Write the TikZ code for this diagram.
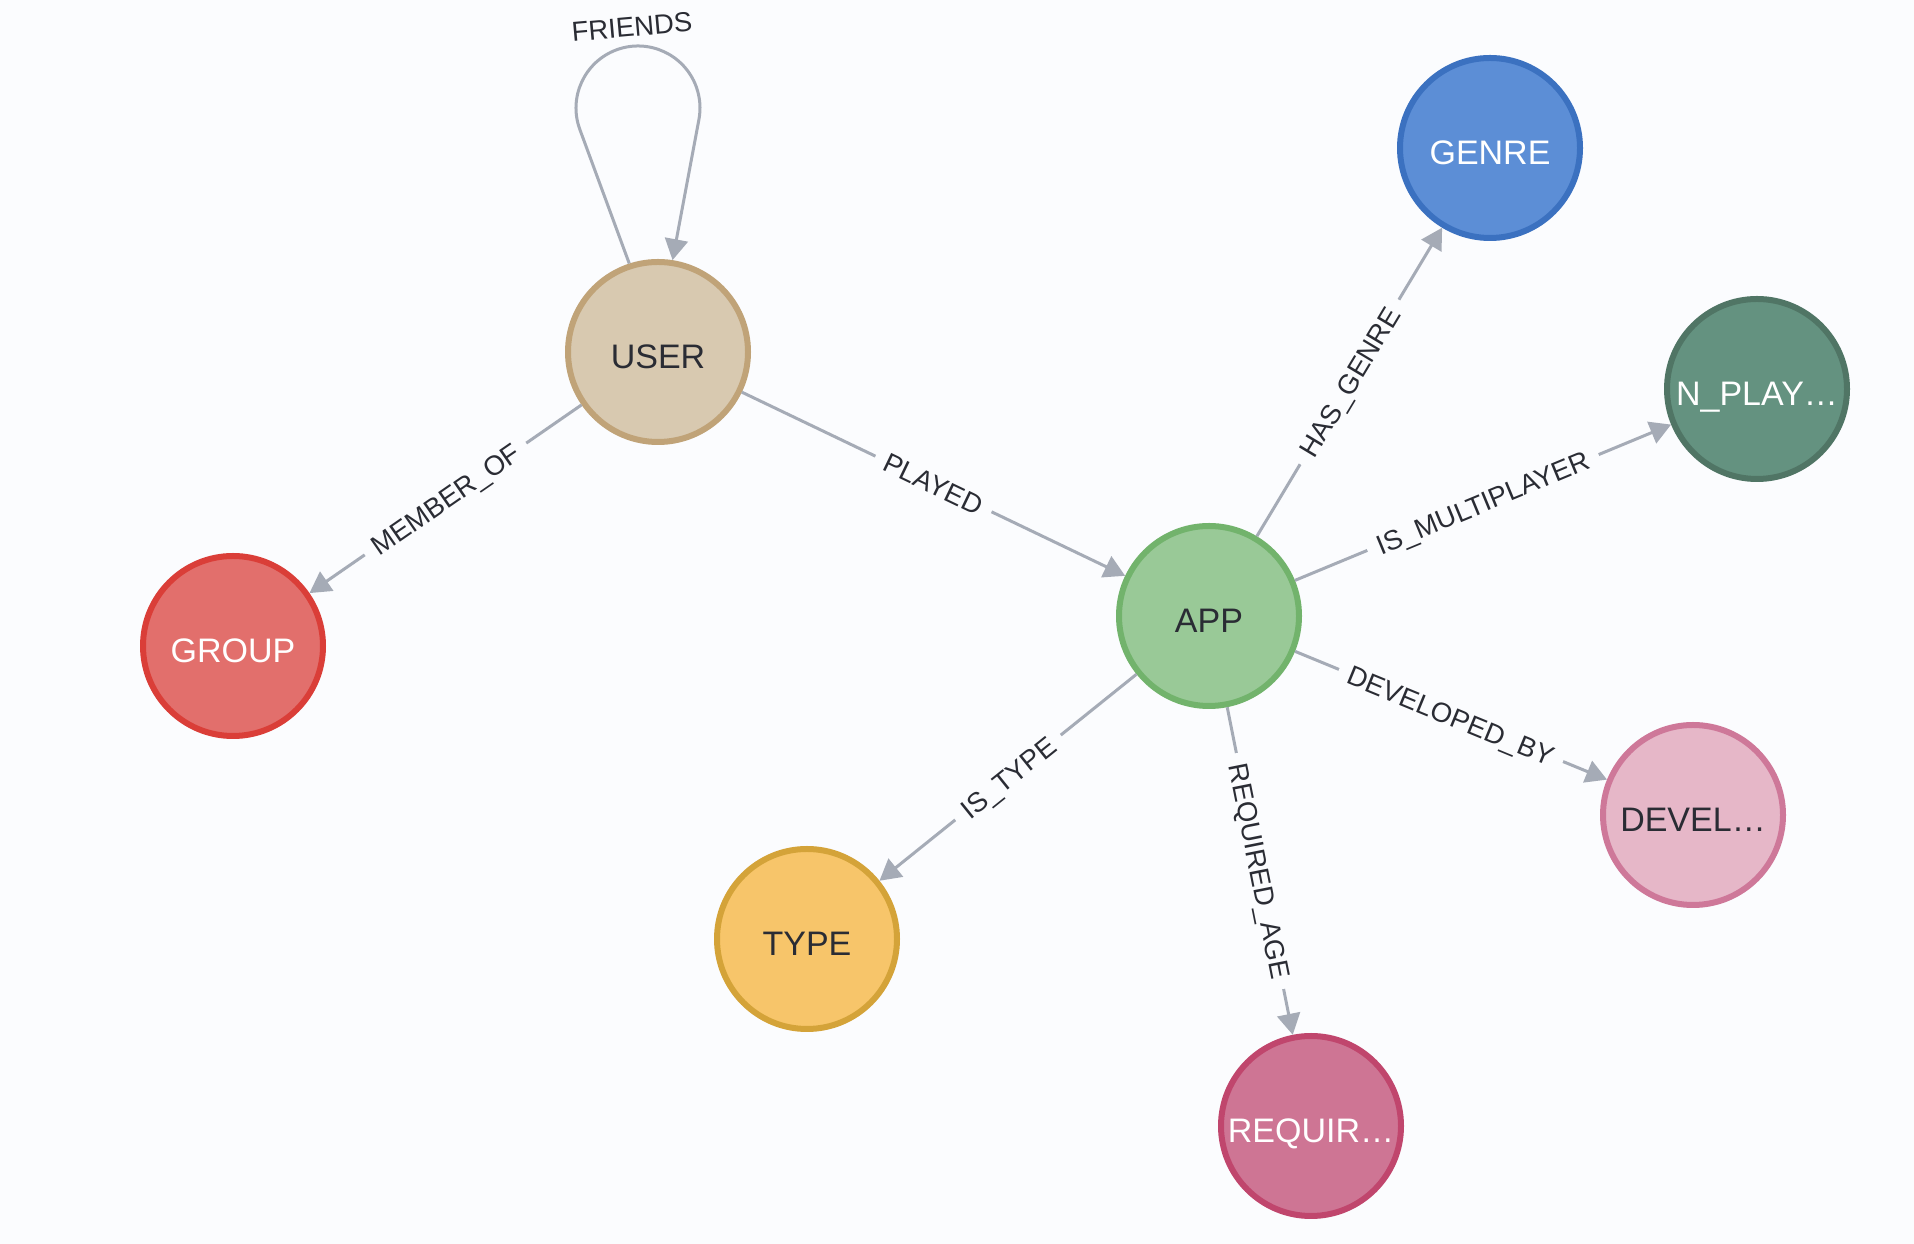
\documentclass[tikz,border=0pt]{standalone}
\usepackage{fontspec}
\setmainfont{Liberation Sans}
\usetikzlibrary{arrows.meta,calc}
\definecolor{bg}{HTML}{FBFCFE}
\definecolor{edgegray}{HTML}{A5ABB6}
\definecolor{txtdark}{HTML}{2A2C34}
\definecolor{userfill}{HTML}{D8C9B0}\definecolor{userline}{HTML}{C0A378}
\definecolor{appfill}{HTML}{99C997}\definecolor{appline}{HTML}{72B36C}
\definecolor{genrefill}{HTML}{5C8ED6}\definecolor{genreline}{HTML}{3B71C0}
\definecolor{nplayfill}{HTML}{649280}\definecolor{nplayline}{HTML}{507565}
\definecolor{groupfill}{HTML}{E26F6C}\definecolor{groupline}{HTML}{DA3E38}
\definecolor{develfill}{HTML}{E6B7C8}\definecolor{develline}{HTML}{CE7899}
\definecolor{typefill}{HTML}{F7C56A}\definecolor{typeline}{HTML}{D4A339}
\definecolor{reqfill}{HTML}{CE7594}\definecolor{reqline}{HTML}{C0466D}
\tikzset{
  gnode/.style={circle, minimum size=180pt, inner sep=0pt, line width=6pt,
    font=\fontsize{34}{40}\selectfont, text height=34pt, text depth=0pt},
  darktext/.style={text=txtdark},
  lighttext/.style={text=white},
  rel/.style={draw=edgegray, line width=3pt,
    -{Triangle[length=21pt,width=23pt]}},
  rlab/.style={midway, sloped, fill=bg, text=txtdark, inner xsep=11pt, inner ysep=3pt,
    font=\fontsize{27.5}{32}\selectfont, text height=19.8pt, text depth=0pt},
}
\begin{document}
\begin{tikzpicture}[x=1pt,y=1pt]
  \fill[bg] (0,0) rectangle (1914,1244);
  \useasboundingbox (0,0) rectangle (1914,1244);

  \node[gnode, darktext, fill=userfill, draw=userline] (USER) at (658,892) {USER};
  \node[gnode, darktext, fill=appfill, draw=appline] (APP) at (1209,628) {APP};
  \node[gnode, lighttext, fill=genrefill, draw=genreline] (GENRE) at (1490,1096) {GENRE};
  \node[gnode, lighttext, fill=nplayfill, draw=nplayline] (NPLAY) at (1757,855) {N\_PLAY…};
  \node[gnode, lighttext, fill=groupfill, draw=groupline] (GROUP) at (233,598) {GROUP};
  \node[gnode, darktext, fill=develfill, draw=develline] (DEVEL) at (1693,429) {DEVEL…};
  \node[gnode, darktext, fill=typefill, draw=typeline] (TYPE) at (807,305) {TYPE};
  \node[gnode, lighttext, fill=reqfill, draw=reqline] (REQ) at (1311,118) {REQUIR…};

  \draw[rel] (USER) -- node[rlab]{PLAYED} (APP);
  \draw[rel] (USER) -- node[rlab]{MEMBER\_OF} (GROUP);
  \draw[rel] (APP) -- node[rlab]{HAS\_GENRE} (GENRE);
  \draw[rel] (APP) -- node[rlab]{IS\_MULTIPLAYER} (NPLAY);
  \draw[rel] (APP) -- node[rlab]{DEVELOPED\_BY} (DEVEL);
  \draw[rel] (APP) -- node[rlab]{REQUIRED\_AGE} (REQ);
  \draw[rel] (APP) -- node[rlab]{IS\_TYPE} (TYPE);

  \coordinate (loopc) at (638,1136);
  \draw[rel] (USER.108) -- ($(loopc)+(200:62)$) arc[start angle=200, end angle=-11, radius=62] -- (USER.81);
  \node[text=txtdark, font=\fontsize{27.5}{32}\selectfont, rotate=5] (FRL) at (632,1217) {FRIENDS};
\end{tikzpicture}
\end{document}
